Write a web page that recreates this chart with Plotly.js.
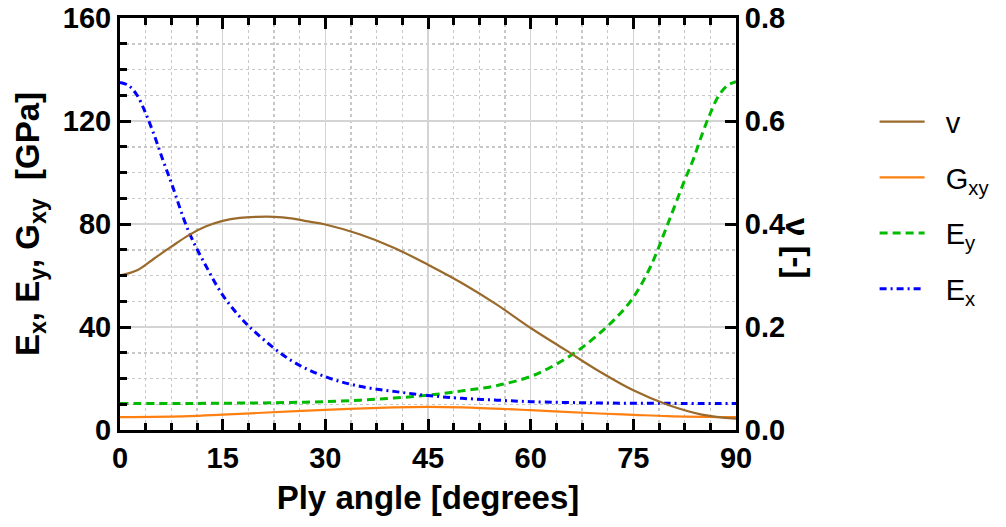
<!DOCTYPE html>
<html>
<head>
<meta charset="utf-8">
<script src="https://cdn.plot.ly/plotly-3.0.1.min.js"></script>
<style>html,body{margin:0;padding:0;background:#fff;}#chart{width:1006px;height:527px;}</style>
</head>
<body>
<div id="chart"></div>
<script>
// Ply angle [degrees]
const nuAngle = [0, 2.5, 5, 7.5, 10, 12.5, 15, 17.5, 20, 22.5, 25, 27.5, 30, 35, 40, 45, 50, 55, 60, 65, 70, 75, 80, 85, 90];
const nuValues = [0.300, 0.310, 0.333, 0.356, 0.378, 0.395, 0.406, 0.412, 0.414, 0.414, 0.411, 0.405, 0.399, 0.380, 0.354, 0.321, 0.285, 0.244, 0.198, 0.156, 0.114, 0.077, 0.049, 0.030, 0.022];

const gAngle = [0, 10, 15, 20, 30, 40, 45, 50, 60, 70, 75, 80, 90];
const gxyValues = [5.0, 5.4, 6.0, 6.6, 7.8, 8.8, 9.0, 8.8, 7.7, 6.4, 5.9, 5.4, 5.0];

const eyAngle = [0, 10, 15, 20, 25, 30, 35, 40, 45, 50, 55, 60, 62.5, 65, 67.5, 70, 72.5, 75, 77.5, 80, 82.5, 83.75, 85, 86.25, 87.5, 88.75, 90];
const eyValues = [10.3, 10.3, 10.4, 10.5, 10.7, 11.0, 11.6, 12.4, 13.5, 15.2, 17.2, 20.8, 23.8, 27.5, 32.0, 37.4, 43.6, 51.5, 63.4, 79.8, 97.0, 105.0, 114.5, 123.0, 130.0, 133.8, 135.3];

const exAngle = [0, 1.25, 2.5, 3.75, 5, 6.25, 7.5, 10, 12.5, 15, 17.5, 20, 25, 30, 35, 40, 45, 50, 55, 60, 70, 80, 90];
const exValues = [135.0, 133.8, 130.0, 123.0, 114.5, 105.0, 96.0, 77.3, 64.0, 52.4, 44.0, 37.4, 27.0, 20.7, 17.0, 15.0, 13.4, 12.3, 11.6, 11.0, 10.5, 10.35, 10.3];

const xTicks = [0, 15, 30, 45, 60, 75, 90];
const yTicks = [0, 40, 80, 120, 160];
const y2Ticks = [0, 0.2, 0.4, 0.6, 0.8];

const FONT = 'Liberation Sans, Arial, Helvetica, sans-serif';
const tickF = {family: FONT, size: 29, color: '#000', weight: 'bold'};
const titleF = {family: FONT, size: 33, color: '#000', weight: 'bold'};

const traces = [
  {x: nuAngle, y: nuValues, name: '&nbsp;&nbsp;v', yaxis: 'y2', mode: 'lines', legendgroup: 'a',
   line: {color: '#9a6a2c', width: 2.2, shape: 'spline'}},
  {x: gAngle, y: gxyValues, name: '&nbsp;&nbsp;G<sub>xy</sub>', mode: 'lines', legendgroup: 'b',
   line: {color: '#ff8010', width: 2.2, shape: 'spline'}},
  {x: eyAngle, y: eyValues, name: '&nbsp;&nbsp;E<sub>y</sub>', mode: 'lines', legendgroup: 'c',
   line: {color: '#00bb00', width: 3, dash: '8px,5px', shape: 'spline'}},
  {x: exAngle, y: exValues, name: '&nbsp;&nbsp;E<sub>x</sub>', mode: 'lines', legendgroup: 'd',
   line: {color: '#0000ff', width: 3, dash: '7px,4px,2px,4px', shape: 'spline'}}
];

const layout = {
  width: 1006, height: 527,
  margin: {l: 120, r: 268, t: 18, b: 97},
  paper_bgcolor: '#fff', plot_bgcolor: '#fff',
  font: {family: FONT, color: '#000'},
  showlegend: true,
  legend: {x: 1.225, y: 0.81, xanchor: 'left', yanchor: 'top',
    font: {family: FONT, size: 29, color: '#000'},
    traceorder: 'grouped', tracegroupgap: 15, itemwidth: 45, bgcolor: 'rgba(0,0,0,0)'},
  xaxis: {
    range: [0, 90], tickvals: xTicks, ticktext: xTicks.map(String),
    showline: true, linecolor: '#000', linewidth: 3, mirror: 'ticks',
    ticks: 'inside', ticklen: 11, tickwidth: 3, tickcolor: '#000',
    showgrid: true, gridcolor: '#d4d4d4', gridwidth: 1.5, zeroline: false,
    tickfont: tickF,
    minor: {dtick: 3.75, tick0: 0, ticks: 'inside', ticklen: 7, tickwidth: 3, tickcolor: '#000',
      showgrid: true, gridcolor: '#c8c8c8', gridwidth: 1.5, griddash: 'dot'},
    title: {text: 'Ply angle [degrees]', font: titleF, standoff: 14}
  },
  yaxis: {
    range: [0, 160], tickvals: yTicks, ticktext: yTicks.map(String),
    showline: true, linecolor: '#000', linewidth: 3, mirror: false,
    ticks: 'inside', ticklen: 11, tickwidth: 3, tickcolor: '#000',
    showgrid: true, gridcolor: '#d4d4d4', gridwidth: 1.5, zeroline: false,
    tickfont: tickF,
    minor: {dtick: 10, tick0: 0, ticks: 'inside', ticklen: 7, tickwidth: 3, tickcolor: '#000',
      showgrid: true, gridcolor: '#c8c8c8', gridwidth: 1.5, griddash: 'dot'},
    title: {text: 'E<sub>x</sub>, E<sub>y</sub>, G<sub>xy</sub>&nbsp;&nbsp;[GPa]', font: titleF, standoff: 14}
  },
  yaxis2: {
    overlaying: 'y', side: 'right', range: [0, 0.8],
    tickvals: y2Ticks, ticktext: y2Ticks.map(v => v.toFixed(1)),
    showline: true, linecolor: '#000', linewidth: 3,
    ticks: 'inside', ticklen: 11, tickwidth: 3, tickcolor: '#000',
    showgrid: false, zeroline: false, tickfont: tickF
  },
  annotations: [{
    xref: 'paper', yref: 'paper', x: 1.10, y: 0.44, xanchor: 'center', yanchor: 'middle',
    text: 'ν [-]', textangle: 90, showarrow: false, font: titleF
  }]
};

Plotly.newPlot('chart', traces, layout, {staticPlot: true, displayModeBar: false});
</script>
</body>
</html>
